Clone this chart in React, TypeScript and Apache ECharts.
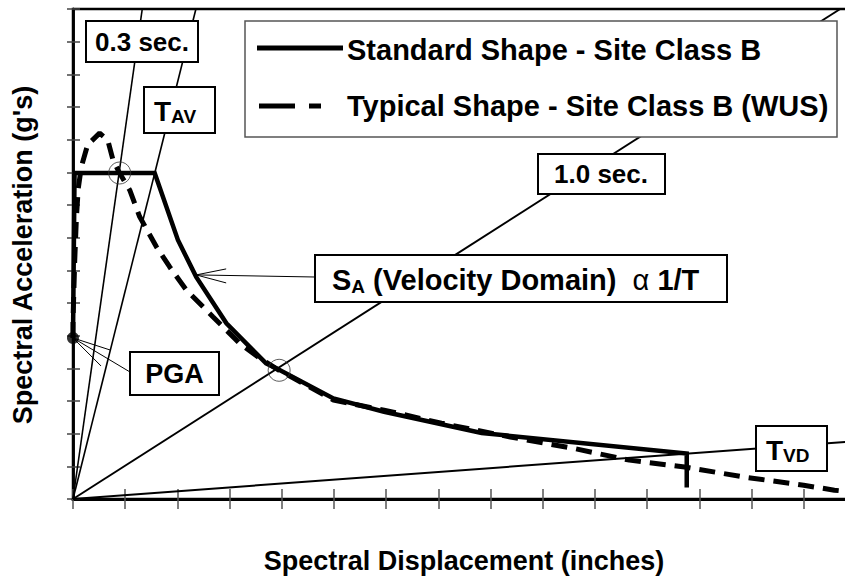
import React, { useEffect, useRef } from "react";
import * as echarts from "echarts";

// Axis ranges (no tick labels are shown in the reference)
const X_MAX = 16;
const Y_MAX = 15;

// Peak ground acceleration point (Sd = 0)
const pgaPoint = [0, 4.93];

// Standard Shape - Site Class B (solid)
const standardSd = [0, 0.03, 1.565, 2.01, 2.36, 2.94, 3.7, 3.95, 4.99, 5.96, 7.83, 11.76, 11.76];
const standardSa = [4.93, 9.98, 9.98, 7.93, 6.8, 5.38, 4.15, 3.96, 3.08, 2.67, 2.02, 1.39, 0.35];

// Typical Shape - Site Class B (WUS) (dashed)
const typicalSd = [0, 0.0, 0.033, 0.065, 0.1, 0.16, 0.28, 0.51, 0.665, 0.766, 0.895, 1.086, 1.278, 1.598, 1.85, 2.17, 2.68, 3.19, 3.58, 3.95, 4.99, 5.96, 7.06, 8.38, 9.62, 10.66, 11.76, 12.87, 14.0, 14.59, 15.0];
const typicalSa = [4.93, 5.47, 7.3, 8.6, 9.5, 10.17, 10.84, 11.2, 10.99, 10.38, 9.97, 9.46, 8.64, 7.72, 7.11, 6.4, 5.58, 4.77, 4.31, 3.94, 3.03, 2.72, 2.32, 1.9, 1.54, 1.19, 0.97, 0.67, 0.42, 0.27, 0.2];

// Constant-period radial lines: end points (Sd, Sa) of lines from the origin
const periodNames = ["0.3 sec.", "T_AV", "1.0 sec.", "T_VD"];
const periodEndSd = [1.327, 2.355, 14.7, 16];
const periodEndSa = [15, 15, 15, 1.89];

// Intersection circles
const circleSd = [0.895, 3.95];
const circleSa = [9.98, 3.94];

// Point the S_A leader arrow points at (on the standard curve)
const velocityArrowPoint = [2.36, 6.86];

const FONT = '"Liberation Sans", Arial, Helvetica, sans-serif';

function zip(a: number[], b: number[]) {
  return a.map((v, i) => [v, b[i]]);
}

export default function App() {
  const ref = useRef<HTMLDivElement>(null);

  useEffect(() => {
    document.body.style.margin = "0";
    if (!ref.current) return;
    const chart = echarts.init(ref.current, null, { renderer: "svg" });

    const grid = { left: 73, top: 9, width: 835, height: 490, show: true, borderColor: "#000", borderWidth: 2.5, backgroundColor: "transparent" };

    const xBase = {
      type: "value" as const,
      min: 0,
      max: X_MAX,
      interval: 1,
      position: "bottom" as const,
      axisLine: { show: true, onZero: false, lineStyle: { color: "#000", width: 3 } },
      axisLabel: { show: false },
      splitLine: { show: false },
    };
    const yBase = {
      type: "value" as const,
      min: 0,
      max: Y_MAX,
      interval: 1,
      position: "left" as const,
      axisLine: { show: true, onZero: false, lineStyle: { color: "#000", width: 2.5 } },
      axisLabel: { show: false },
      splitLine: { show: false },
    };

    const periodSeries = periodNames.map((name, i) => ({
      name,
      type: "line",
      data: [[0, 0], [periodEndSd[i], periodEndSa[i]]],
      symbol: "none",
      lineStyle: { color: "#000", width: i >= 2 ? 2 : 1.6 },
      z: 3,
      silent: true,
    }));

    chart.setOption({
      animation: false,
      grid,
      xAxis: [
        { ...xBase, axisTick: { show: true, inside: true, length: 10, lineStyle: { color: "#555", width: 1.5 } } },
        { ...xBase, axisTick: { show: true, inside: false, length: 10, lineStyle: { color: "#555", width: 1.5 } } },
      ],
      yAxis: [
        { ...yBase, axisTick: { show: true, inside: true, length: 7, lineStyle: { color: "#444", width: 1.5 } } },
        { ...yBase, axisTick: { show: true, inside: false, length: 6, lineStyle: { color: "#444", width: 1.5 } } },
      ],
      series: [
        ...periodSeries,
        {
          name: "Typical Shape - Site Class B (WUS)",
          type: "line",
          data: zip(typicalSd, typicalSa),
          symbol: "none",
          lineStyle: { color: "#000", width: 5, type: [16, 9] },
          z: 4,
        },
        {
          name: "Standard Shape - Site Class B",
          type: "line",
          data: zip(standardSd, standardSa),
          symbol: "none",
          lineStyle: { color: "#000", width: 4.5, cap: "butt", join: "miter" },
          z: 5,
        },
        {
          name: "circles",
          type: "scatter",
          data: zip(circleSd, circleSa),
          symbol: "circle",
          symbolSize: 22,
          itemStyle: { color: "rgba(0,0,0,0)", borderColor: "#333", borderWidth: 1 },
          z: 6,
        },
        {
          name: "PGA",
          type: "scatter",
          data: [pgaPoint],
          symbol: "circle",
          symbolSize: 12,
          itemStyle: { color: "#000" },
          z: 7,
        },
      ],
    });

    const tip = chart.convertToPixel({ gridIndex: 0 }, velocityArrowPoint) as number[];
    const pga = chart.convertToPixel({ gridIndex: 0 }, pgaPoint) as number[];

    const box = (x: number, y: number, w: number, h: number, lw = 2, stroke = "#000") => ({
      type: "rect",
      shape: { x, y, width: w, height: h },
      style: { fill: "#fff", stroke, lineWidth: lw },
      z: 100,
    });
    const text = (t: string, x: number, y: number, size: number, align = "center", extra: any = {}) => ({
      type: "text",
      x,
      y,
      style: { text: t, font: `bold ${size}px ${FONT}`, fill: "#000", align, verticalAlign: "middle" },
      z: 101,
      ...extra,
    });
    const line = (x1: number, y1: number, x2: number, y2: number, w = 1, extra: any = {}) => ({
      type: "line",
      shape: { x1, y1, x2, y2 },
      style: { stroke: "#000", lineWidth: w, ...extra },
      z: 99,
    });
    const subText = (main: string, sub: string, x: number, y: number, mainSize: number, subSize: number) => ({
      type: "text",
      x,
      y,
      style: {
        text: `{m|${main}}{s|${sub}}`,
        align: "left",
        verticalAlign: "middle",
        rich: {
          m: { font: `bold ${mainSize}px ${FONT}`, fill: "#000", lineHeight: 30 },
          s: { font: `bold ${subSize}px ${FONT}`, fill: "#000", lineHeight: 14, verticalAlign: "bottom" },
        },
      },
      z: 101,
    });

    chart.setOption({
      graphic: [
        // axis titles
        text("Spectral Displacement (inches)", 464, 561, 27),
        text("Spectral Acceleration (g's)", 23, 255, 27, "center", { rotation: Math.PI / 2 }),
        // legend
        box(245, 21, 592, 116, 1.5, "#555"),
        { ...line(257, 48, 343, 48, 5), z: 101 },
        { ...line(259, 106, 295, 106, 5), z: 101 },
        { ...line(309, 106, 321, 106, 5), z: 101 },
        text("Standard Shape - Site Class B", 347, 50, 29, "left"),
        text("Typical Shape - Site Class B (WUS)", 347, 106, 29, "left"),
        // 0.3 sec
        box(86, 21, 112, 41),
        text("0.3 sec.", 142, 42, 26),
        // T_AV
        box(144, 87, 71, 46),
        subText("T", "AV", 154, 111, 28, 19),
        // 1.0 sec
        box(538, 154, 127, 40),
        text("1.0 sec.", 601, 174, 26),
        // S_A velocity domain
        box(315, 255, 412, 47),
        {
          type: "text",
          x: 332,
          y: 280,
          style: {
            text: "{m|S}{s|A}{m| (Velocity Domain)  }{g|α}{m| 1/T}",
            align: "left",
            verticalAlign: "middle",
            rich: {
              m: { font: `bold 29px ${FONT}`, fill: "#000", lineHeight: 32 },
              s: { font: `bold 19px ${FONT}`, fill: "#000", lineHeight: 15, verticalAlign: "bottom" },
              g: { font: `29px ${FONT}`, fill: "#000", lineHeight: 32 },
            },
          },
          z: 101,
        },
        line(315, 277, tip[0], tip[1], 1),
        line(tip[0], tip[1], tip[0] + 30, tip[1] - 6, 1),
        line(tip[0], tip[1], tip[0] + 30, tip[1] + 8, 1),
        // PGA
        box(130, 352, 89, 43),
        text("PGA", 174.5, 374, 27),
        line(pga[0], pga[1], 130, 372, 1),
        line(pga[0], pga[1], pga[0] + 37, pga[1] + 12, 1),
        line(pga[0], pga[1], pga[0] + 28, pga[1] + 28, 1),
        // T_VD
        box(756, 426, 71, 45),
        subText("T", "VD", 766, 450, 28, 19),
      ],
    });

    return () => chart.dispose();
  }, []);

  return (
    <div style={{ width: 845, height: 577, overflow: "hidden", position: "relative" }}>
      <div ref={ref} style={{ width: 910, height: 577 }} />
    </div>
  );
}
